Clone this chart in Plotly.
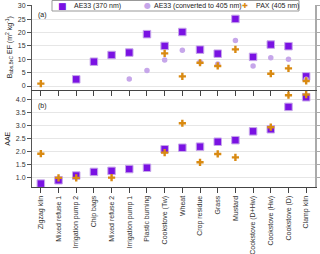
import plotly.graph_objects as go
from plotly.subplots import make_subplots

categories = ["Zigzag kiln", "Mixed refuse 1", "Irrigation pump 2", "Chip bags", "Mixed refuse 2",
              "Irrigation pump 1", "Plastic burning", "Cookstove (Tw)", "Wheat", "Crop residue",
              "Grass", "Mustard", "Cookstove (D+Hw)", "Cookstove (Hw)", "Cookstove (D)", "Clamp kiln"]

ef_ae33_370 = [None, None, 2.5, 9.1, 11.6, 12.5, 19.4, 15.0, 20.2, 13.6, 12.1, 25.1, 10.9, 15.5, 14.9, 3.6]
ef_ae33_405 = [None, None, None, None, None, 2.6, 5.8, 9.7, 13.4, 9.0, 8.2, 17.0, 7.5, 10.6, 10.0, 2.5]
ef_pax_405 = [0.9, None, None, None, None, None, None, 12.2, 3.6, 8.7, 7.5, 13.7, None, 4.6, 6.6, 1.9]

aae_ae33 = [0.77, 0.90, 1.08, 1.22, 1.26, 1.33, 1.38, 2.09, 2.15, 2.19, 2.38, 2.44, 2.78, 2.86, 3.72, 4.09]
aae_pax = [1.92, 0.99, 0.99, None, 1.00, None, None, 1.96, 3.09, 1.59, 1.91, 1.78, None, 2.94, 4.17, 4.19]

ef_ticks = [0, 5, 10, 15, 20, 25, 30]
aae_ticks = [1.0, 1.5, 2.0, 2.5, 3.0, 3.5, 4.0]

series_names = ["AE33 (370 nm)", "AE33 (converted to 405 nm)", "PAX (405 nm)"]

PURPLE = "#7a12e3"
LAV = "#c6a6ea"
ORANGE = "#d98a12"
FONT = "Liberation Sans"
TXT = "#222"

W, H = 320, 254
ML, MR, MT, MB = 32, 5, 0, 67
PW, PH = W - ML - MR, H - MT - MB

fig = make_subplots(rows=2, cols=1, shared_xaxes=False, vertical_spacing=0.0)

sq = dict(symbol="square", size=7.5, color=PURPLE, line=dict(color=LAV, width=1))
ci = dict(symbol="circle", size=5.5, color=LAV)
cr = dict(symbol="cross", size=6, color=ORANGE, line=dict(width=0))

fig.add_trace(go.Scatter(x=categories, y=ef_ae33_370, mode="markers", marker=sq,
                         name=series_names[0], showlegend=False), row=1, col=1)
fig.add_trace(go.Scatter(x=categories, y=ef_ae33_405, mode="markers", marker=ci,
                         name=series_names[1], showlegend=False), row=1, col=1)
fig.add_trace(go.Scatter(x=categories, y=ef_pax_405, mode="markers", marker=cr,
                         name=series_names[2], showlegend=False), row=1, col=1)
fig.add_trace(go.Scatter(x=categories, y=aae_ae33, mode="markers", marker=sq,
                         showlegend=False, cliponaxis=False), row=2, col=1)
fig.add_trace(go.Scatter(x=categories, y=aae_pax, mode="markers", marker=cr,
                         showlegend=False, cliponaxis=False), row=2, col=1)

axfont = dict(family=FONT, size=7, color="#333")

fig.update_layout(
    width=W, height=H,
    margin=dict(l=ML, r=MR, t=MT, b=MB),
    plot_bgcolor="white", paper_bgcolor="white",
    font=dict(family=FONT, size=7, color=TXT),
    showlegend=False,
)

fig.update_xaxes(range=[-0.5, 15.5], showline=True, linecolor="#444", linewidth=1,
                 ticks="outside", ticklen=5, tickcolor="#444", showgrid=False,
                 tickfont=axfont, tickangle=-90, automargin=False)
fig.update_xaxes(showticklabels=False, row=1, col=1)
fig.layout.xaxis.domain = [0, 1]
fig.layout.xaxis2.domain = [0, 1]

fig.update_yaxes(showline=True, linecolor="#555", linewidth=1, ticks="outside", ticklen=4,
                 tickcolor="#555", showgrid=True, gridcolor="#e6e6e6", gridwidth=1,
                 tickfont=axfont, zeroline=False, mirror=False, automargin=False)
fig.update_yaxes(range=[-1.3, 30.3], tickvals=ef_ticks, row=1, col=1,
                 title=dict(text="B<sub>abs,BrC</sub> EF (m<sup>2</sup> kg<sup>-1</sup>)",
                            font=dict(family=FONT, size=7, color=TXT), standoff=4))
fig.update_yaxes(range=[0.64, 4.35], tickvals=aae_ticks, tickformat=".1f", row=2, col=1,
                 title=dict(text="AAE", font=dict(family=FONT, size=7, color=TXT), standoff=4))


def yfrac(px):
    return (H - MB - px) / PH


def xfrac(px):
    return (px - ML) / PW


fig.layout.yaxis.domain = [yfrac(89.5), yfrac(5)]
fig.layout.yaxis2.domain = [0, yfrac(90.5)]

# right-side mirrored axes
fig.update_layout(
    yaxis3=dict(overlaying="y", side="right", range=[-1.3, 30.3], tickvals=ef_ticks,
                showticklabels=False, showline=True, linecolor="#aaa", linewidth=2,
                ticks="outside", ticklen=4, tickcolor="#aaa", showgrid=False, zeroline=False,
                automargin=False),
    yaxis4=dict(overlaying="y2", side="right", range=[0.64, 4.35], tickvals=aae_ticks,
                showticklabels=False, showline=True, linecolor="#aaa", linewidth=2,
                ticks="outside", ticklen=4, tickcolor="#aaa", showgrid=False, zeroline=False,
                automargin=False),
)
fig.add_trace(go.Scatter(x=categories, y=ef_ae33_370, mode="markers", marker=dict(opacity=0),
                         showlegend=False, hoverinfo="skip", xaxis="x", yaxis="y3"))
fig.add_trace(go.Scatter(x=categories, y=aae_ae33, mode="markers", marker=dict(opacity=0),
                         showlegend=False, hoverinfo="skip", xaxis="x2", yaxis="y4"))

# custom legend box
fig.add_shape(type="rect", xref="paper", yref="paper",
              x0=xfrac(52), x1=xfrac(299), y0=yfrac(11), y1=yfrac(0.5),
              line=dict(color="#999", width=1), fillcolor="white", layer="above")
leg_sym = [("■", PURPLE, 9), ("●", LAV, 8), ("✚", ORANGE, 7)]
leg_sym_x = [62, 147, 245]
leg_txt_x = [72, 152, 254]
for (s, c, fs), sx, tx, nm in zip(leg_sym, leg_sym_x, leg_txt_x, series_names):
    fig.add_annotation(text=s, xref="paper", yref="paper", x=xfrac(sx), y=yfrac(5.5),
                       xanchor="center", yanchor="middle", showarrow=False,
                       font=dict(family="DejaVu Sans", size=fs, color=c))
    fig.add_annotation(text=nm, xref="paper", yref="paper", x=xfrac(tx), y=yfrac(5.5),
                       xanchor="left", yanchor="middle", showarrow=False,
                       font=dict(family=FONT, size=7, color=TXT))

fig.add_annotation(text="(a)", xref="paper", yref="paper", x=xfrac(36), y=yfrac(15),
                   xanchor="left", yanchor="middle", showarrow=False,
                   font=dict(family=FONT, size=7, color=TXT))
fig.add_annotation(text="(b)", xref="paper", yref="paper", x=xfrac(36), y=yfrac(106),
                   xanchor="left", yanchor="middle", showarrow=False,
                   font=dict(family=FONT, size=7, color=TXT))

fig.write_html("out.html", config={"displayModeBar": False},
               post_script="document.body.style.margin='0px';document.body.style.overflow='hidden';")
